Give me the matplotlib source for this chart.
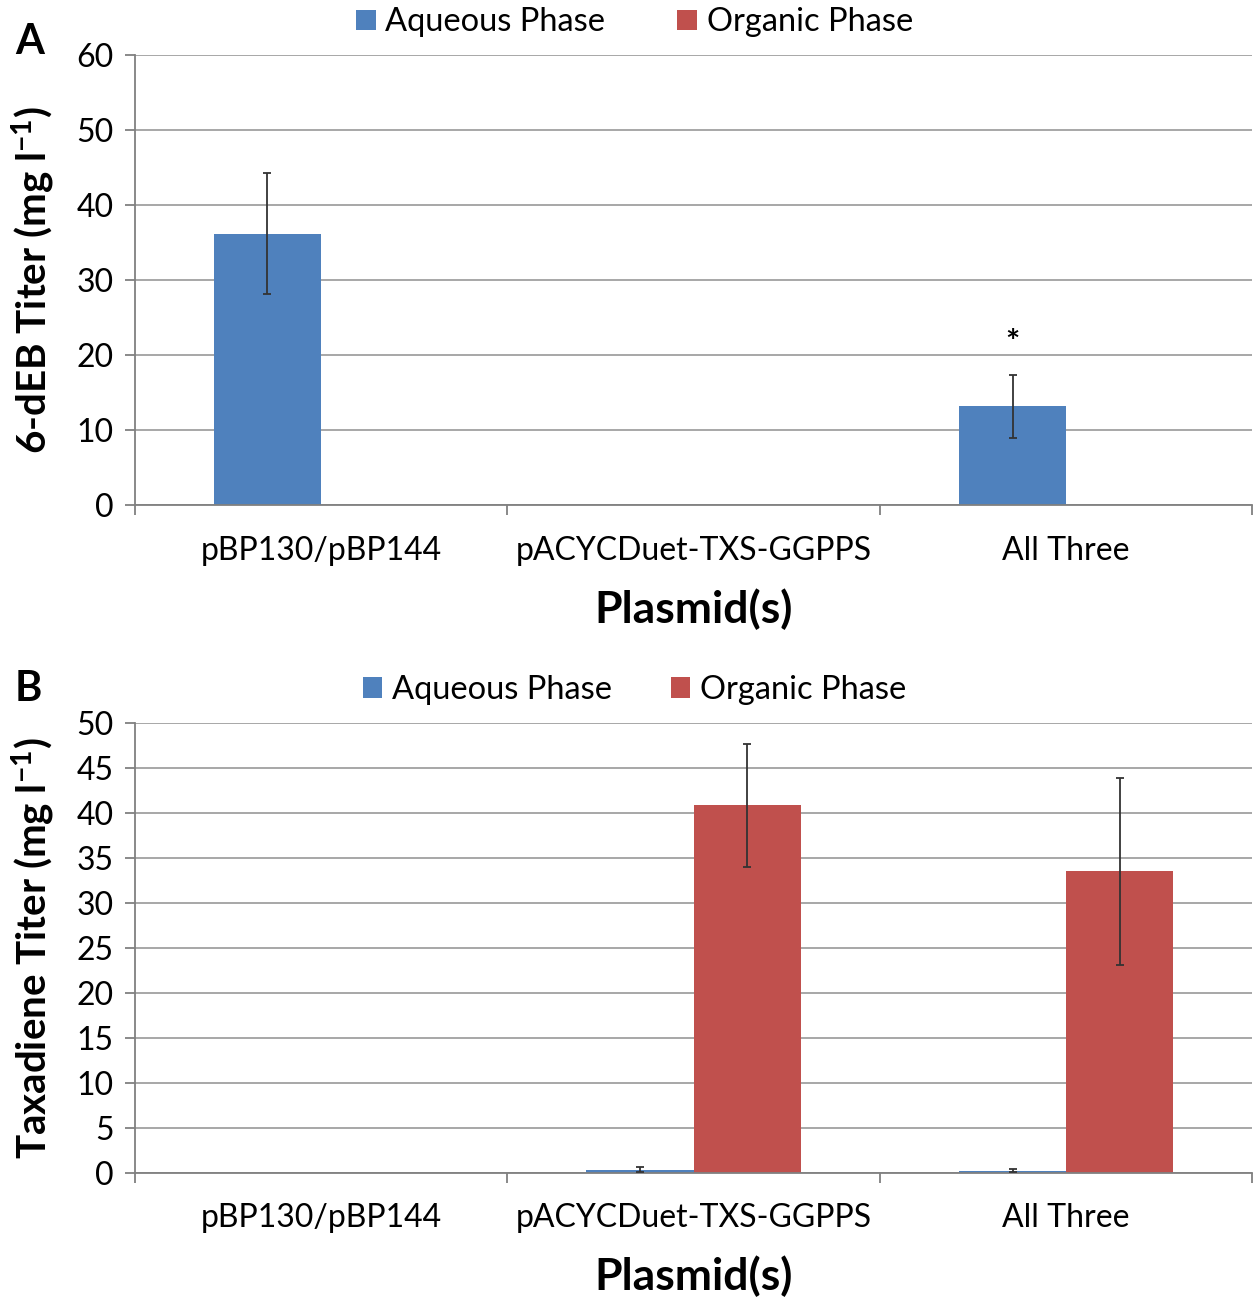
import numpy as np
import matplotlib.pyplot as plt

plasmids = ['pBP130/pBP144', 'pACYCDuet-TXS-GGPPS', 'All Three']
series = ['Aqueous Phase', 'Organic Phase']

# panel A: 6-dEB titer
deb_aq = [36.2, 0, 13.2]
deb_aq_err = [8.1, 0, 4.2]
deb_org = [0, 0, 0]
deb_org_err = [0, 0, 0]

# panel B: taxadiene titer
tax_aq = [0, 0.35, 0.25]
tax_aq_err = [0, 0.3, 0.2]
tax_org = [0, 40.8, 33.5]
tax_org_err = [0, 6.8, 10.4]

blue = '#4F81BD'
red = '#C0504D'
plt.rcParams['font.family'] = ['Lato', 'DejaVu Sans']
plt.rcParams['mathtext.default'] = 'regular'

fig = plt.figure(figsize=(12.6, 13.09), dpi=100)
axA = fig.add_axes([0.107, 0.614, 0.887, 0.344])
axB = fig.add_axes([0.107, 0.104, 0.887, 0.344])

def panel(ax, aq, aq_err, org, org_err, ymax, ystep, ylabel, colsp):
    x = np.arange(len(plasmids))
    w = 0.288
    ax.bar(x - w / 2, aq, w, color=blue, label=series[0], zorder=2)
    ax.bar(x + w / 2, org, w, color=red, label=series[1], zorder=2)
    for xs, v, e in [(x - w / 2, aq, aq_err), (x + w / 2, org, org_err)]:
        for xi, vi, ei in zip(xs, v, e):
            if ei > 0:
                ax.errorbar(xi, vi, yerr=ei, fmt='none', ecolor='#333333',
                            elinewidth=1.3, capsize=3, capthick=1.3, zorder=3)
    ax.set_xlim(-0.5, 2.5)
    ax.set_ylim(0, ymax)
    ax.set_yticks(np.arange(0, ymax + 0.1, ystep))
    ax.yaxis.grid(True, color='#a0a0a0', linewidth=1.3, zorder=0)
    ax.set_axisbelow(True)
    ax.set_xticks(x)
    ax.set_xticklabels(plasmids, fontsize=23)
    ax.set_xticks([-0.5, 0.5, 1.5, 2.5], minor=True)
    ax.tick_params(axis='x', which='major', length=0, pad=22)
    ax.tick_params(axis='x', which='minor', length=7, color='#808080', width=1.3)
    ax.tick_params(axis='y', labelsize=23, length=7, color='#808080', width=1.3, pad=8)
    for s in ['top', 'right']:
        ax.spines[s].set_visible(False)
    for s in ['left', 'bottom']:
        ax.spines[s].set_color('#808080')
        ax.spines[s].set_linewidth(1.3)
    ax.set_ylabel(ylabel, fontsize=29, fontweight='bold', labelpad=14)
    ax.set_xlabel('Plasmid(s)', fontsize=32, fontweight='bold', labelpad=16)
    ax.legend(loc='lower center', bbox_to_anchor=(0.447, 1.01), ncol=2, frameon=False,
              fontsize=23.5, handlelength=0.6, handleheight=0.6, handletextpad=0.3,
              columnspacing=colsp, borderaxespad=0.0)

panel(axA, deb_aq, deb_aq_err, deb_org, deb_org_err, 60, 10, '6-dEB Titer (mg l$^{-1}$)', 2.2)
axA.text(2 - 0.144, 21.5, '*', ha='center', va='center', fontsize=24, fontweight='bold')
panel(axB, tax_aq, tax_aq_err, tax_org, tax_org_err, 50, 5, 'Taxadiene Titer (mg l$^{-1}$)', 1.8)

fig.text(0.012, 0.968, 'A', fontsize=30, fontweight='bold', va='center')
fig.text(0.012, 0.474, 'B', fontsize=30, fontweight='bold', va='center')

fig.savefig('out.png', dpi=100)
